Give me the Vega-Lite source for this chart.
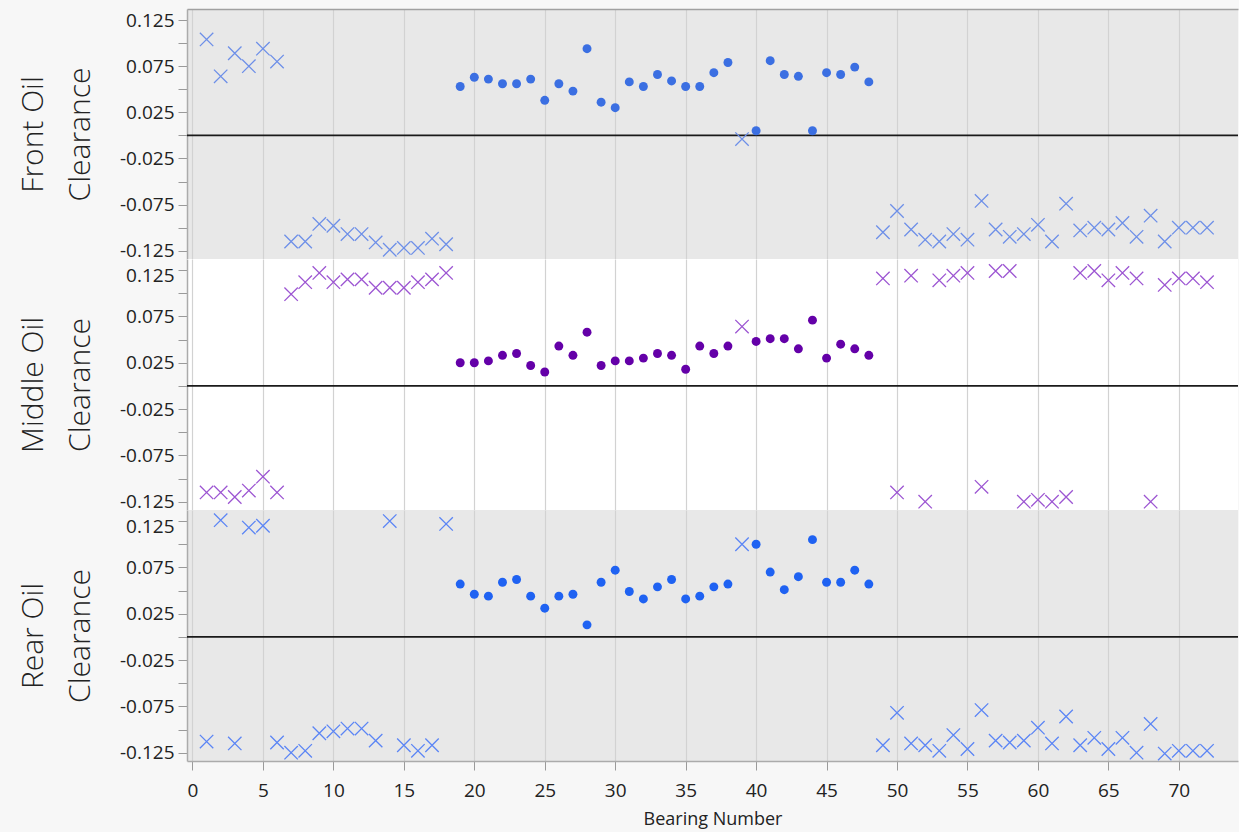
{
  "$schema": "https://vega.github.io/schema/vega-lite/v6.json",
  "background": "#f7f7f7",
  "padding": {"left": 18, "top": 9, "right": 0, "bottom": 4},
  "spacing": 0,
  "bounds": "flush",
  "config": {
    "font": "Open Sans",
    "view": {"stroke": null},
    "axis": {
      "labelFont": "Open Sans",
      "titleFont": "Open Sans",
      "labelColor": "#222222",
      "titleColor": "#222222",
      "titleFontWeight": 300,
      "tickColor": "#9a9a9a",
      "domainColor": "#ababab",
      "gridColor": "#d2d2d2",
      "gridWidth": 1.2,
      "labelFlush": false,
      "labelOverlap": false
    }
  },
  "datasets": {
    "front": [
      {"b":1,"v":0.104,"m":"x"},{"b":2,"v":0.064,"m":"x"},{"b":3,"v":0.089,"m":"x"},{"b":4,"v":0.075,"m":"x"},{"b":5,"v":0.094,"m":"x"},{"b":6,"v":0.080,"m":"x"},
      {"b":7,"v":-0.115,"m":"x"},{"b":8,"v":-0.115,"m":"x"},{"b":9,"v":-0.096,"m":"x"},{"b":10,"v":-0.098,"m":"x"},{"b":11,"v":-0.107,"m":"x"},{"b":12,"v":-0.107,"m":"x"},
      {"b":13,"v":-0.116,"m":"x"},{"b":14,"v":-0.124,"m":"x"},{"b":15,"v":-0.122,"m":"x"},{"b":16,"v":-0.122,"m":"x"},{"b":17,"v":-0.112,"m":"x"},{"b":18,"v":-0.118,"m":"x"},
      {"b":19,"v":0.053,"m":"o"},{"b":20,"v":0.063,"m":"o"},{"b":21,"v":0.061,"m":"o"},{"b":22,"v":0.056,"m":"o"},{"b":23,"v":0.056,"m":"o"},{"b":24,"v":0.061,"m":"o"},
      {"b":25,"v":0.038,"m":"o"},{"b":26,"v":0.056,"m":"o"},{"b":27,"v":0.048,"m":"o"},{"b":28,"v":0.094,"m":"o"},{"b":29,"v":0.036,"m":"o"},{"b":30,"v":0.030,"m":"o"},
      {"b":31,"v":0.058,"m":"o"},{"b":32,"v":0.053,"m":"o"},{"b":33,"v":0.066,"m":"o"},{"b":34,"v":0.059,"m":"o"},{"b":35,"v":0.053,"m":"o"},{"b":36,"v":0.053,"m":"o"},
      {"b":37,"v":0.068,"m":"o"},{"b":38,"v":0.079,"m":"o"},{"b":39,"v":-0.004,"m":"x"},{"b":40,"v":0.005,"m":"o"},{"b":41,"v":0.081,"m":"o"},{"b":42,"v":0.066,"m":"o"},
      {"b":43,"v":0.064,"m":"o"},{"b":44,"v":0.005,"m":"o"},{"b":45,"v":0.068,"m":"o"},{"b":46,"v":0.066,"m":"o"},{"b":47,"v":0.074,"m":"o"},{"b":48,"v":0.058,"m":"o"},
      {"b":49,"v":-0.105,"m":"x"},{"b":50,"v":-0.082,"m":"x"},{"b":51,"v":-0.102,"m":"x"},{"b":52,"v":-0.113,"m":"x"},{"b":53,"v":-0.115,"m":"x"},{"b":54,"v":-0.107,"m":"x"},
      {"b":55,"v":-0.113,"m":"x"},{"b":56,"v":-0.071,"m":"x"},{"b":57,"v":-0.102,"m":"x"},{"b":58,"v":-0.110,"m":"x"},{"b":59,"v":-0.107,"m":"x"},{"b":60,"v":-0.097,"m":"x"},
      {"b":61,"v":-0.115,"m":"x"},{"b":62,"v":-0.074,"m":"x"},{"b":63,"v":-0.103,"m":"x"},{"b":64,"v":-0.100,"m":"x"},{"b":65,"v":-0.102,"m":"x"},{"b":66,"v":-0.095,"m":"x"},
      {"b":67,"v":-0.110,"m":"x"},{"b":68,"v":-0.087,"m":"x"},{"b":69,"v":-0.115,"m":"x"},{"b":70,"v":-0.100,"m":"x"},{"b":71,"v":-0.100,"m":"x"},{"b":72,"v":-0.100,"m":"x"}
    ],
    "middle": [
      {"b":1,"v":-0.115,"m":"x"},{"b":2,"v":-0.115,"m":"x"},{"b":3,"v":-0.120,"m":"x"},{"b":4,"v":-0.113,"m":"x"},{"b":5,"v":-0.098,"m":"x"},{"b":6,"v":-0.115,"m":"x"},
      {"b":7,"v":0.099,"m":"x"},{"b":8,"v":0.112,"m":"x"},{"b":9,"v":0.122,"m":"x"},{"b":10,"v":0.112,"m":"x"},{"b":11,"v":0.115,"m":"x"},{"b":12,"v":0.115,"m":"x"},
      {"b":13,"v":0.106,"m":"x"},{"b":14,"v":0.106,"m":"x"},{"b":15,"v":0.106,"m":"x"},{"b":16,"v":0.112,"m":"x"},{"b":17,"v":0.115,"m":"x"},{"b":18,"v":0.122,"m":"x"},
      {"b":19,"v":0.025,"m":"o"},{"b":20,"v":0.025,"m":"o"},{"b":21,"v":0.027,"m":"o"},{"b":22,"v":0.033,"m":"o"},{"b":23,"v":0.035,"m":"o"},{"b":24,"v":0.022,"m":"o"},
      {"b":25,"v":0.015,"m":"o"},{"b":26,"v":0.043,"m":"o"},{"b":27,"v":0.033,"m":"o"},{"b":28,"v":0.058,"m":"o"},{"b":29,"v":0.022,"m":"o"},{"b":30,"v":0.027,"m":"o"},
      {"b":31,"v":0.027,"m":"o"},{"b":32,"v":0.030,"m":"o"},{"b":33,"v":0.035,"m":"o"},{"b":34,"v":0.033,"m":"o"},{"b":35,"v":0.018,"m":"o"},{"b":36,"v":0.043,"m":"o"},
      {"b":37,"v":0.035,"m":"o"},{"b":38,"v":0.043,"m":"o"},{"b":39,"v":0.064,"m":"x"},{"b":40,"v":0.048,"m":"o"},{"b":41,"v":0.051,"m":"o"},{"b":42,"v":0.051,"m":"o"},
      {"b":43,"v":0.040,"m":"o"},{"b":44,"v":0.071,"m":"o"},{"b":45,"v":0.030,"m":"o"},{"b":46,"v":0.045,"m":"o"},{"b":47,"v":0.040,"m":"o"},{"b":48,"v":0.033,"m":"o"},
      {"b":49,"v":0.116,"m":"x"},{"b":50,"v":-0.115,"m":"x"},{"b":51,"v":0.119,"m":"x"},{"b":52,"v":-0.125,"m":"x"},{"b":53,"v":0.114,"m":"x"},{"b":54,"v":0.119,"m":"x"},
      {"b":55,"v":0.122,"m":"x"},{"b":56,"v":-0.109,"m":"x"},{"b":57,"v":0.124,"m":"x"},{"b":58,"v":0.124,"m":"x"},{"b":59,"v":-0.125,"m":"x"},{"b":60,"v":-0.123,"m":"x"},
      {"b":61,"v":-0.125,"m":"x"},{"b":62,"v":-0.120,"m":"x"},{"b":63,"v":0.122,"m":"x"},{"b":64,"v":0.124,"m":"x"},{"b":65,"v":0.114,"m":"x"},{"b":66,"v":0.122,"m":"x"},
      {"b":67,"v":0.116,"m":"x"},{"b":68,"v":-0.125,"m":"x"},{"b":69,"v":0.109,"m":"x"},{"b":70,"v":0.116,"m":"x"},{"b":71,"v":0.116,"m":"x"},{"b":72,"v":0.112,"m":"x"}
    ],
    "rear": [
      {"b":1,"v":-0.113,"m":"x"},{"b":2,"v":0.126,"m":"x"},{"b":3,"v":-0.115,"m":"x"},{"b":4,"v":0.118,"m":"x"},{"b":5,"v":0.120,"m":"x"},{"b":6,"v":-0.114,"m":"x"},
      {"b":7,"v":-0.125,"m":"x"},{"b":8,"v":-0.123,"m":"x"},{"b":9,"v":-0.104,"m":"x"},{"b":10,"v":-0.102,"m":"x"},{"b":11,"v":-0.099,"m":"x"},{"b":12,"v":-0.099,"m":"x"},
      {"b":13,"v":-0.112,"m":"x"},{"b":14,"v":0.125,"m":"x"},{"b":15,"v":-0.117,"m":"x"},{"b":16,"v":-0.123,"m":"x"},{"b":17,"v":-0.117,"m":"x"},{"b":18,"v":0.122,"m":"x"},
      {"b":19,"v":0.057,"m":"o"},{"b":20,"v":0.046,"m":"o"},{"b":21,"v":0.044,"m":"o"},{"b":22,"v":0.059,"m":"o"},{"b":23,"v":0.062,"m":"o"},{"b":24,"v":0.044,"m":"o"},
      {"b":25,"v":0.031,"m":"o"},{"b":26,"v":0.044,"m":"o"},{"b":27,"v":0.046,"m":"o"},{"b":28,"v":0.013,"m":"o"},{"b":29,"v":0.059,"m":"o"},{"b":30,"v":0.072,"m":"o"},
      {"b":31,"v":0.049,"m":"o"},{"b":32,"v":0.041,"m":"o"},{"b":33,"v":0.054,"m":"o"},{"b":34,"v":0.062,"m":"o"},{"b":35,"v":0.041,"m":"o"},{"b":36,"v":0.044,"m":"o"},
      {"b":37,"v":0.054,"m":"o"},{"b":38,"v":0.057,"m":"o"},{"b":39,"v":0.100,"m":"x"},{"b":40,"v":0.100,"m":"o"},{"b":41,"v":0.070,"m":"o"},{"b":42,"v":0.051,"m":"o"},
      {"b":43,"v":0.065,"m":"o"},{"b":44,"v":0.105,"m":"o"},{"b":45,"v":0.059,"m":"o"},{"b":46,"v":0.059,"m":"o"},{"b":47,"v":0.072,"m":"o"},{"b":48,"v":0.057,"m":"o"},
      {"b":49,"v":-0.117,"m":"x"},{"b":50,"v":-0.082,"m":"x"},{"b":51,"v":-0.115,"m":"x"},{"b":52,"v":-0.117,"m":"x"},{"b":53,"v":-0.123,"m":"x"},{"b":54,"v":-0.106,"m":"x"},
      {"b":55,"v":-0.121,"m":"x"},{"b":56,"v":-0.079,"m":"x"},{"b":57,"v":-0.112,"m":"x"},{"b":58,"v":-0.114,"m":"x"},{"b":59,"v":-0.112,"m":"x"},{"b":60,"v":-0.098,"m":"x"},
      {"b":61,"v":-0.115,"m":"x"},{"b":62,"v":-0.086,"m":"x"},{"b":63,"v":-0.117,"m":"x"},{"b":64,"v":-0.109,"m":"x"},{"b":65,"v":-0.121,"m":"x"},{"b":66,"v":-0.109,"m":"x"},
      {"b":67,"v":-0.125,"m":"x"},{"b":68,"v":-0.094,"m":"x"},{"b":69,"v":-0.126,"m":"x"},{"b":70,"v":-0.123,"m":"x"},{"b":71,"v":-0.123,"m":"x"},{"b":72,"v":-0.123,"m":"x"}
    ]
  },
  "vconcat": [
    {
      "width": 1051,
      "height": 250,
      "view": {"fill": "#e8e8e8", "stroke": null},
      "data": {"name": "front"},
      "encoding": {
        "x": {"field": "b", "type": "quantitative", "scale": {"domain": [-0.39, 74.2], "nice": false, "zero": false},
          "axis": {"orient": "top", "values": [0,5,10,15,20,25,30,35,40,45,50,55,60,65,70], "labels": false, "ticks": false, "title": null, "domain": true, "domainWidth": 1.5, "domainColor": "#a0a0a0", "grid": true}},
        "y": {"field": "v", "type": "quantitative", "scale": {"domain": [-0.134, 0.137], "nice": false, "zero": false},
          "title": ["Front Oil", "Clearance"],
          "axis": {"values": [-0.125,-0.1,-0.075,-0.05,-0.025,0,0.025,0.05,0.075,0.1,0.125],
            "labelExpr": "abs(round(datum.value*1000)) % 50 == 25 ? (datum.value < 0 ? '-' : '') + format(abs(datum.value), '.3f') : ''",
            "grid": false, "tickSize": 9, "labelFontSize": 19, "labelPadding": 4, "domainWidth": 1.5,
            "titleFontSize": 30, "titleLineHeight": 47, "titlePadding": 24}}
      },
      "layer": [
        {"data": {"values": [{"z": 0}]}, "mark": {"type": "rule", "color": "#1a1a1a", "strokeWidth": 1.6}, "encoding": {"x": null, "y": {"field": "z", "type": "quantitative"}}},
        {"transform": [{"filter": "datum.m == 'x'"}], "mark": {"type": "point", "shape": "M-1,-1L1,1M-1,1L1,-1", "filled": false, "size": 180, "strokeWidth": 1.3, "color": "#6d8fe8", "opacity": 1}},
        {"transform": [{"filter": "datum.m == 'o'"}], "mark": {"type": "point", "shape": "circle", "filled": true, "size": 80, "color": "#3b6fe2", "opacity": 1}}
      ]
    },
    {
      "width": 1051,
      "height": 251,
      "view": {"fill": "#ffffff", "stroke": null},
      "data": {"name": "middle"},
      "encoding": {
        "x": {"field": "b", "type": "quantitative", "scale": {"domain": [-0.39, 74.2], "nice": false, "zero": false},
          "axis": {"values": [0,5,10,15,20,25,30,35,40,45,50,55,60,65,70], "labels": false, "ticks": false, "title": null, "domain": false, "grid": true}},
        "y": {"field": "v", "type": "quantitative", "scale": {"domain": [-0.134, 0.137], "nice": false, "zero": false},
          "title": ["Middle Oil", "Clearance"],
          "axis": {"values": [-0.125,-0.1,-0.075,-0.05,-0.025,0,0.025,0.05,0.075,0.1,0.125],
            "labelExpr": "abs(round(datum.value*1000)) % 50 == 25 ? (datum.value < 0 ? '-' : '') + format(abs(datum.value), '.3f') : ''",
            "labelOffset": {"condition": {"test": "datum.value > 0.12", "value": 5}, "value": 0},
            "grid": false, "tickSize": 9, "labelFontSize": 19, "labelPadding": 4, "domainWidth": 1.5,
            "titleFontSize": 30, "titleLineHeight": 47, "titlePadding": 24}}
      },
      "layer": [
        {"data": {"values": [{"z": 0}]}, "mark": {"type": "rule", "color": "#1a1a1a", "strokeWidth": 1.6}, "encoding": {"x": null, "y": {"field": "z", "type": "quantitative"}}},
        {"transform": [{"filter": "datum.m == 'x'"}], "mark": {"type": "point", "shape": "M-1,-1L1,1M-1,1L1,-1", "filled": false, "size": 180, "strokeWidth": 1.3, "color": "#9c55d2", "opacity": 1}},
        {"transform": [{"filter": "datum.m == 'o'"}], "mark": {"type": "point", "shape": "circle", "filled": true, "size": 80, "color": "#6400a8", "opacity": 1}}
      ]
    },
    {
      "width": 1051,
      "height": 251,
      "view": {"fill": "#e8e8e8", "stroke": null},
      "data": {"name": "rear"},
      "encoding": {
        "x": {"field": "b", "type": "quantitative", "scale": {"domain": [-0.39, 74.2], "nice": false, "zero": false},
          "title": "Bearing Number",
          "axis": {"values": [0,5,10,15,20,25,30,35,40,45,50,55,60,65,70], "format": "d", "grid": true, "tickSize": 9, "labelFontSize": 19, "labelPadding": 11, "domainWidth": 1.5,
            "titleFontSize": 18, "titleFontWeight": "normal", "titlePadding": 10}},
        "y": {"field": "v", "type": "quantitative", "scale": {"domain": [-0.134, 0.137], "nice": false, "zero": false},
          "title": ["Rear Oil", "Clearance"],
          "axis": {"values": [-0.125,-0.1,-0.075,-0.05,-0.025,0,0.025,0.05,0.075,0.1,0.125],
            "labelExpr": "abs(round(datum.value*1000)) % 50 == 25 ? (datum.value < 0 ? '-' : '') + format(abs(datum.value), '.3f') : ''",
            "labelOffset": {"condition": {"test": "datum.value > 0.12", "value": 5}, "value": 0},
            "grid": false, "tickSize": 9, "labelFontSize": 19, "labelPadding": 4, "domainWidth": 1.5,
            "titleFontSize": 30, "titleLineHeight": 47, "titlePadding": 24}}
      },
      "layer": [
        {"data": {"values": [{"z": 0}]}, "mark": {"type": "rule", "color": "#1a1a1a", "strokeWidth": 1.6}, "encoding": {"x": null, "y": {"field": "z", "type": "quantitative"}}},
        {"transform": [{"filter": "datum.m == 'x'"}], "mark": {"type": "point", "shape": "M-1,-1L1,1M-1,1L1,-1", "filled": false, "size": 180, "strokeWidth": 1.3, "color": "#5b85f5", "opacity": 1}},
        {"transform": [{"filter": "datum.m == 'o'"}], "mark": {"type": "point", "shape": "circle", "filled": true, "size": 80, "color": "#1f62f2", "opacity": 1}}
      ]
    }
  ]
}
